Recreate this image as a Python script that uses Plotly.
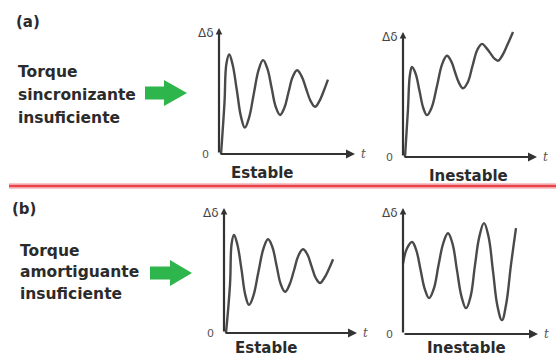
import plotly.graph_objects as go

# ---------------- data (t, delta-delta in arbitrary units) -------------
a_estable_t = [0.15, 0.40, 0.55, 0.75, 1.00, 1.32, 1.62, 1.90, 2.20, 2.57, 2.92, 3.24, 3.55,
               3.86, 4.17, 4.49, 4.80, 5.11, 5.43, 5.74, 6.06, 6.40, 6.74, 7.06, 7.38, 7.70, 8.01]
a_estable_d = [0.0, 4.0, 7.2, 7.9, 7.1, 5.0, 2.95, 2.1, 2.85, 4.85, 6.7, 7.45, 6.8,
               5.3, 3.75, 3.1, 3.65, 4.9, 6.15, 6.65, 6.2, 5.2, 4.2, 3.75, 4.2, 5.0, 5.9]

a_inestable_t = [0.15, 0.37, 0.52, 0.67, 0.93, 1.23, 1.52, 1.79, 2.12, 2.54, 2.93, 3.28, 3.60,
                 3.88, 4.17, 4.48, 4.82, 5.19, 5.56, 5.90, 6.20, 6.49, 6.80, 7.09, 7.40, 7.80, 8.21]
a_inestable_d = [0.0, 3.8, 6.6, 7.2, 6.7, 5.3, 3.9, 3.35, 3.9, 5.7, 7.45, 8.1, 7.65,
                 6.8, 5.95, 5.5, 5.95, 7.3, 8.6, 9.05, 8.75, 8.35, 7.9, 7.7, 8.1, 9.0, 10.0]

b_estable_t = [0.15, 0.45, 0.58, 0.75, 1.00, 1.32, 1.60, 1.88, 2.20, 2.59, 2.98, 3.31, 3.63,
               3.95, 4.27, 4.59, 4.92, 5.26, 5.60, 5.94, 6.26, 6.58, 6.90, 7.22, 7.54, 7.88, 8.20]
b_estable_d = [0.0, 3.85, 7.2, 7.85, 7.1, 5.05, 3.05, 2.25, 2.95, 4.9, 6.8, 7.5, 6.9,
               5.4, 3.9, 3.3, 3.85, 5.0, 6.2, 6.7, 6.3, 5.35, 4.4, 4.0, 4.4, 5.1, 5.9]

b_inestable_t = [0.0, 0.30, 0.67, 0.98, 1.30, 1.62, 1.93, 2.27, 2.63, 2.98, 3.33, 3.66, 4.00,
                 4.34, 4.67, 5.00, 5.33, 5.66, 6.00, 6.33, 6.67, 7.00, 7.33, 7.63, 8.00, 8.37]
b_inestable_d = [5.6, 6.8, 7.3, 6.65, 5.1, 3.55, 2.85, 3.55, 5.45, 7.2, 8.0, 7.2, 5.05,
                 2.95, 2.05, 2.95, 5.45, 7.75, 8.8, 7.75, 4.95, 2.2, 1.1, 2.3, 5.5, 8.4]

axis_len_t = 10
axis_len_d = 10

row_labels = ["(a)", "(b)"]
row_texts = [["Torque", "sincronizante", "insuficiente"],
             ["Torque", "amortiguante", "insuficiente"]]
panel_titles = ["Estable", "Inestable", "Estable", "Inestable"]

# ---------------- layout helpers ----------------
W, H = 556, 358
TXT = "#2b2b2b"
CURVE = "#4a4a4a"
AX = "#333333"
FONT = "DejaVu Sans"

# per panel: origin px (ox, oy), px per unit (sx, sy)
panels = [
    dict(ox=219, oy=154, sx=13.6, sy=12.6, t=a_estable_t, d=a_estable_d),
    dict(ox=403, oy=157, sx=13.4, sy=12.5, t=a_inestable_t, d=a_inestable_d),
    dict(ox=224, oy=333, sx=13.3, sy=12.5, t=b_estable_t, d=b_estable_d),
    dict(ox=403, oy=334, sx=13.5, sy=12.6, t=b_inestable_t, d=b_inestable_d),
]
XR = [-1.0, 11.2]
YR = [-0.8, 11.0]

fig = go.Figure()
layout = dict(width=W, height=H, margin=dict(l=0, r=0, t=0, b=0),
              paper_bgcolor="white", plot_bgcolor="white", showlegend=False)
annotations = []
shapes = []


def px(x):
    return x / W


def py(y):
    return 1 - y / H


for i, p in enumerate(panels):
    n = "" if i == 0 else str(i + 1)
    xa, ya = "x" + n, "y" + n
    xd = [px(p["ox"] + XR[0] * p["sx"]), px(p["ox"] + XR[1] * p["sx"])]
    yd = [py(p["oy"] - YR[0] * p["sy"]), py(p["oy"] - YR[1] * p["sy"])]
    layout["xaxis" + n] = dict(domain=xd, range=XR, visible=False, anchor=ya, fixedrange=True)
    layout["yaxis" + n] = dict(domain=yd, range=YR, visible=False, anchor=xa, fixedrange=True)
    fig.add_trace(go.Scatter(x=p["t"], y=p["d"], xaxis=xa, yaxis=ya, mode="lines",
                             line=dict(color=CURVE, width=2.4, shape="spline", smoothing=1.15),
                             hoverinfo="skip"))
    # axes with arrowheads
    annotations.append(dict(x=axis_len_t, y=0, ax=0, ay=0, xref=xa, yref=ya, axref=xa, ayref=ya,
                            showarrow=True, arrowhead=2, arrowsize=1, arrowwidth=1.8,
                            arrowcolor=AX, text=""))
    annotations.append(dict(x=0, y=axis_len_d, ax=0, ay=0, xref=xa, yref=ya, axref=xa, ayref=ya,
                            showarrow=True, arrowhead=2, arrowsize=0.6, arrowwidth=2.2,
                            arrowcolor=AX, text=""))
    annotations.append(dict(x=-0.2, y=axis_len_d - 0.4, xref=xa, yref=ya, text="Δδ",
                            showarrow=False, xanchor="right", yanchor="middle",
                            font=dict(family=FONT, size=12, color="#444444")))
    annotations.append(dict(x=-0.6, y=0, xref=xa, yref=ya, text="0",
                            showarrow=False, xanchor="right", yanchor="middle",
                            font=dict(family=FONT, size=11, color="#555555")))
    annotations.append(dict(x=axis_len_t + 0.3, y=0, xref=xa, yref=ya, text="<i>t</i>",
                            showarrow=False, xanchor="left", yanchor="middle",
                            font=dict(family="DejaVu Serif", size=12, color="#555555")))

# panel titles
title_pos = [(262, 173), (468, 176), (266, 348), (466, 348)]
for (tx, ty), s in zip(title_pos, panel_titles):
    annotations.append(dict(x=px(tx), y=py(ty), xref="paper", yref="paper", text="<b>%s</b>" % s,
                            showarrow=False, xanchor="center", yanchor="middle",
                            font=dict(family=FONT, size=15, color=TXT)))

# row labels and left text
label_pos = [(14, 22), (10, 209)]
text_pos = [[(16, 72), (16, 95), (16, 118)], [(18, 251), (18, 272), (18, 294)]]
for r in range(2):
    annotations.append(dict(x=px(label_pos[r][0]), y=py(label_pos[r][1]), xref="paper", yref="paper",
                            text="<b>%s</b>" % row_labels[r], showarrow=False,
                            xanchor="left", yanchor="middle",
                            font=dict(family=FONT, size=15, color=TXT)))
    for (tx, ty), s in zip(text_pos[r], row_texts[r]):
        annotations.append(dict(x=px(tx), y=py(ty), xref="paper", yref="paper",
                                text="<b>%s</b>" % s, showarrow=False,
                                xanchor="left", yanchor="middle",
                                font=dict(family=FONT, size=15.5, color=TXT)))


# green arrows
def arrow_path(x0, x_head, x_tip, yc, shaft_h, head_h):
    pts = [(x0, yc - shaft_h / 2), (x_head, yc - shaft_h / 2), (x_head, yc - head_h / 2),
           (x_tip, yc), (x_head, yc + head_h / 2), (x_head, yc + shaft_h / 2), (x0, yc + shaft_h / 2)]
    return "M " + " L ".join("%.5f,%.5f" % (px(a), py(b)) for a, b in pts) + " Z"


for (x0, xh, xt, yc) in [(145, 164, 187, 93), (150, 170, 192, 273)]:
    shapes.append(dict(type="path", xref="paper", yref="paper",
                       path=arrow_path(x0, xh, xt, yc, 13, 26),
                       fillcolor="#2eb54c", line=dict(width=0)))

# red separator
shapes.append(dict(type="line", xref="paper", yref="paper", x0=px(9), x1=1, y0=py(186), y1=py(186),
                   line=dict(color="rgba(235,90,95,0.35)", width=6)))
shapes.append(dict(type="line", xref="paper", yref="paper", x0=px(9), x1=1, y0=py(186), y1=py(186),
                   line=dict(color="#e8454b", width=2.5)))

layout["annotations"] = annotations
layout["shapes"] = shapes
fig.update_layout(**layout)
fig.write_html("out.html", config={"displayModeBar": False, "staticPlot": True},
               post_script="document.body.style.margin='0';document.body.style.overflow='hidden';")
